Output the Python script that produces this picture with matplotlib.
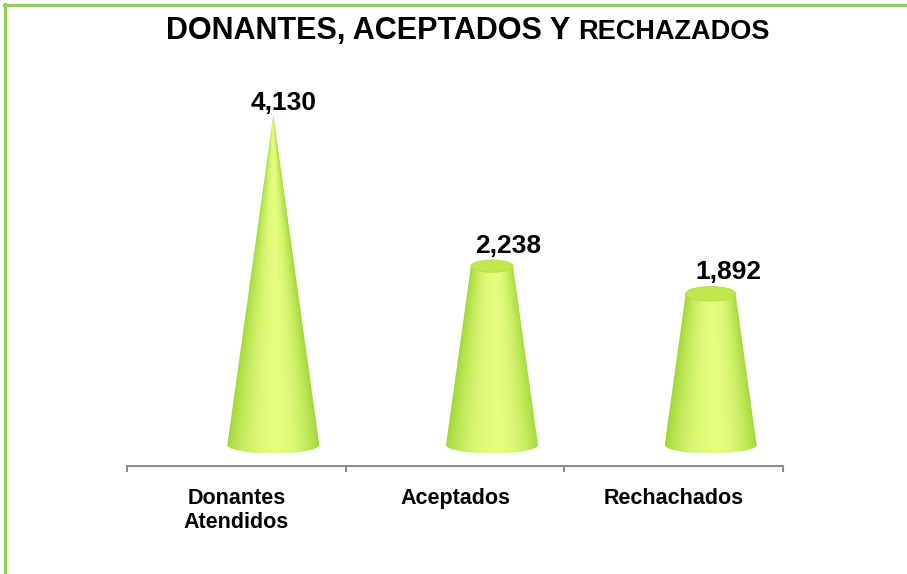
import numpy as np
import matplotlib
matplotlib.use("Agg")
import matplotlib.pyplot as plt
from matplotlib.patches import Polygon, Ellipse
from matplotlib.lines import Line2D

# ---- data ----
categories = ["Donantes\nAtendidos", "Aceptados", "Rechachados"]
values = [4130, 2238, 1892]
title_main = "DONANTES, ACEPTADOS Y "
title_tail = "RECHAZADOS"

FONT = "Liberation Sans"
W, H = 907, 574
fig = plt.figure(figsize=(W / 100, H / 100), dpi=100)
fig.patch.set_facecolor("white")

vmax = max(values)
px_per_unit = 330.0 / vmax           # vertical pixels per value unit
ymin = -21.0 / px_per_unit
ymax = 350.0 / px_per_unit
ax = fig.add_axes([127 / W, 108 / H, 656 / W, 371 / H])
ax.set_xlim(-0.5, len(categories) - 0.5)
ax.set_ylim(ymin, ymax)
xpx = 656.0 / 3.0                    # horizontal pixels per category

R = 46.0 / xpx                       # base radius (data x units)
b = 8.5 / px_per_unit                # base ellipse semi-minor (data y units)
off = 37.0 / xpx                     # 3D depth offset of the cone

dark = np.array([0.63, 0.84, 0.22])
light = np.array([0.90, 0.99, 0.50])

for i, v in enumerate(values):
    cx = i + off
    r_top = R * (1 - v / vmax)
    b_top = (0.29 * r_top * xpx) / px_per_unit
    # outline polygon
    t1 = np.linspace(np.pi, 2 * np.pi, 60)
    bx = cx + R * np.cos(t1)
    by = b * np.sin(t1)
    t2 = np.linspace(0, np.pi, 60)
    tx = cx + r_top * np.cos(t2)
    ty = v + b_top * np.sin(t2)
    pts = np.column_stack([np.concatenate([bx, tx]), np.concatenate([by, ty])])
    poly = Polygon(pts, closed=True, facecolor="none", edgecolor="none")
    ax.add_patch(poly)
    # shading image
    nx, ny = 240, 400
    xs = np.linspace(cx - R, cx + R, nx)
    ys = np.linspace(-b, v + b_top, ny)
    X, Y = np.meshgrid(xs, ys)
    Yc = np.clip(Y, 0, v)
    rr = np.maximum(R * (1 - Yc / vmax), r_top)
    rr = np.maximum(rr, 1e-4)
    u = np.clip((X - cx) / rr, -1, 1)
    pk = 0.1
    d = np.where(u < pk, (pk - u) / (1 + pk), (u - pk) / (1 - pk))
    s = np.clip(np.cos(np.clip(d, 0, 1) * np.pi / 2), 0, 1) ** 0.8
    img = dark[None, None, :] + (light - dark)[None, None, :] * s[:, :, None]
    im = ax.imshow(img, extent=[cx - R, cx + R, -b, v + b_top], origin="lower",
                   aspect="auto", interpolation="bilinear", zorder=2)
    im.set_clip_path(poly)
    if r_top > 0:
        ax.add_patch(Ellipse((cx, v), 2 * r_top, 2 * b_top, facecolor="#BEE84C",
                             edgecolor="#B0DE40", lw=0.6, zorder=3))
    # value label
    dx_px = 10 + 0.3 * r_top * xpx
    dy_px = 12 + 1.4 * b_top * px_per_unit
    ax.annotate(f"{v:,}", xy=(i + off + dx_px / xpx, v), xytext=(0, dy_px * 0.72),
                textcoords="offset points", ha="center", va="center",
                fontsize=19, fontweight="bold", family=FONT, color="black", zorder=5)

ax.set_xlim(-0.5, len(categories) - 0.5)
ax.set_ylim(ymin, ymax)
for sp in ["left", "right", "top"]:
    ax.spines[sp].set_visible(False)
ax.spines["bottom"].set_color("#8C8C8C")
ax.spines["bottom"].set_linewidth(1.5)
ax.yaxis.set_visible(False)
ax.set_facecolor("none")
ax.set_xticks(range(len(categories)))
ax.set_xticklabels(categories, fontsize=15.5, fontweight="bold", family=FONT,
                   linespacing=1.15)
ax.tick_params(axis="x", which="major", length=0, pad=16)
ax.set_xticks(np.arange(-0.5, len(categories), 1.0), minor=True)
ax.tick_params(axis="x", which="minor", length=4.5, width=1.5, color="#8C8C8C",
               direction="out")

# ---- title in two sizes ----
renderer = fig.canvas.get_renderer()
t1 = fig.text(0, 0, title_main, fontsize=22, fontweight="bold", family=FONT)
t2 = fig.text(0, 0, title_tail, fontsize=19.5, fontweight="bold", family=FONT)
w1 = t1.get_window_extent(renderer).width
w2 = t2.get_window_extent(renderer).width
x0 = 468 - (w1 + w2) / 2
base = (H - 39) / H
t1.set_position((x0 / W, base)); t1.set_va("baseline")
t2.set_position(((x0 + w1) / W, base)); t2.set_va("baseline")

# ---- green frame (top and left) ----
fig.add_artist(Line2D([4 / W, 1], [1 - 5 / H, 1 - 5 / H], color="#92D050", lw=2.3,
                      transform=fig.transFigure))
fig.add_artist(Line2D([5 / W, 5 / W], [0, 1 - 4 / H], color="#92D050", lw=2.3,
                      transform=fig.transFigure))

fig.savefig("out.png", dpi=100, facecolor="white")
